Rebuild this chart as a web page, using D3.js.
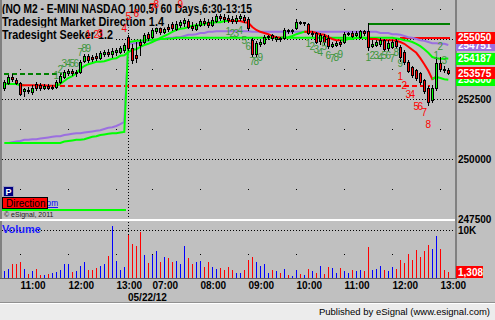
<!DOCTYPE html>
<html><head><meta charset="utf-8">
<script src="https://cdn.jsdelivr.net/npm/d3@7/dist/d3.min.js"></script>
<style>html,body{margin:0;padding:0;background:#c0c0c0;overflow:hidden}svg{display:block}text{font-family:"Liberation Sans",Arial,sans-serif}</style>
</head><body><svg id="c" width="495" height="320"></svg>
<script>
// ---------------- DATA ----------------
const opens = [252950,253175,253425,253300,253175,252825,252875,252800,253125,253075,252950,253050,252950,253000,253200,253425,253575,253675,253575,253625,254075,254300,254250,254300,254200,254375,254450,254375,254450,254450,254550,
255075,254625,254325,254875,254875,255200,255075,255325,255450,255300,255500,255625,255425,255575,255675,255750,255550,255425,255575,255750,255700,255575,255750,255950,255925,255875,255825,255750,255875,255925,255825,
254950,254375,254800,254825,255075,255175,255000,255050,255050,255375,255325,255450,255700,255675,255625,255200,255250,254925,255125,255050,254700,254750,254875,254875,255200,255250,255175,255075,255325,255325,254700,254750,254800,254950,254625,254675,254925,254675,254450,254050,253825,253700,253575,253300,252950,252450,252950,254000,253750,253700];
const highs = [253300,253500,253550,253375,253200,252950,253000,253075,253200,253175,253125,253125,253075,253300,253550,253700,253750,253750,253700,254125,254375,254375,254325,254425,254500,254550,254575,254625,254625,254700,254825,
255175,254800,254875,254950,255250,255300,255450,255550,255500,255550,255625,255700,255750,255800,255875,255825,255700,255675,255825,255875,255825,255925,256050,256075,256050,256000,255950,256000,256050,256000,255925,
255050,254925,254950,255175,255175,255200,255125,255075,255450,255425,255425,255825,255750,255725,255675,255325,255300,255250,255200,255175,254875,254925,254950,255300,255300,255325,255325,255375,255375,255675,254950,254950,255050,255000,254950,254950,255000,254750,254550,254125,253875,253750,253625,253325,253050,253075,254250,254250,253875,253800];
const lows = [252875,253125,253250,253125,252675,252625,252750,252700,252875,252875,252925,252925,252925,252950,253175,253375,253500,253500,253450,253575,254050,254050,254075,254125,254175,254300,254300,254250,254325,254425,254450,
254550,254000,254050,254350,254825,254950,255050,255250,255200,255250,255325,255375,255375,255500,255550,255450,255375,255375,255550,255575,255500,255550,255700,255800,255700,255700,255675,255675,255800,255700,255375,
254300,254300,254700,254800,255000,254950,254925,254925,255000,255250,255250,255425,255625,255575,255200,255125,254825,254800,254800,254625,254675,254700,254700,254825,255175,255075,255125,255050,255175,254550,254675,254700,254700,254500,254550,254625,254625,254075,253950,253625,253425,253300,253125,252750,252250,252375,252875,253675,253625,253550];
const closes = [253200,253425,253325,253175,252700,252900,252825,252950,252950,252950,253050,252950,253000,253200,253450,253625,253675,253575,253625,254050,254300,254125,254175,254200,254425,254450,254375,254500,254550,254625,254750,
254625,254125,254200,254750,255175,255050,255375,255450,255300,255425,255425,255450,255625,255700,255800,255500,255450,255575,255750,255675,255575,255800,255950,255875,255825,255800,255750,255875,255950,255800,255450,
254375,254825,254875,255075,255125,255050,255075,255000,255375,255325,255375,255700,255675,255700,255250,255250,254875,255175,254875,254700,254800,254825,254800,255200,255250,255125,255250,255325,255250,254675,254800,254875,254950,254575,254825,254875,254700,254250,254050,253675,253500,253375,253200,252825,252375,252950,254000,253750,253700,253575];
const volumes = [1390,1940,2920,2920,3330,1940,830,1390,1940,690,690,830,1040,1250,1600,2980,2920,1250,1530,2570,3260,1740,1600,2080,2430,2920,4510,10900,3610,1740,2220,
9020,7080,6590,9510,4860,3120,4720,5550,3260,4370,4160,3260,3610,2980,6730,4160,2980,3260,3610,2220,3330,2220,1870,2080,1740,2290,1740,1040,1040,1600,3820,
4370,3260,2430,2920,1040,1740,1390,1040,1940,690,490,1740,830,560,1940,1530,1040,2430,830,2220,2080,1040,2080,1530,1040,1600,1390,1740,1390,6450,1740,1940,2570,1600,1390,2220,1940,3820,3120,5000,3820,5900,4370,5690,6800,6040,8680,6040,1740,1308];
// Tradesight Market Direction line and its up/down turns
const mdLine = [253125,253125,253125,253125,253075,253075,253075,253075,253075,253075,253075,253050,253050,253050,253125,253250,253375,253450,253575,253750,253875,253950,254000,254050,254050,254075,254125,254175,254200,254300,254325,
254450,254550,254575,254675,254750,254800,254875,254950,255050,255125,255200,255300,255375,255425,255450,255500,255550,255575,255575,255625,255675,255675,255700,255700,255750,255750,255750,255750,255750,255700,
255675,255500,255375,255300,255250,255200,255125,255075,255050,255050,255075,255125,255200,255250,255300,255300,255300,255250,255200,255175,255075,255000,254950,254950,254950,255000,255000,255050,255050,255050,
255000,255000,255000,254950,254950,254950,254950,254925,254875,254800,254675,254550,254425,254200,253950,253675,253325,253425,253375,253325,253300];
const mdTurnIdx = [0,5,14,57,70,76,85,92,108];
const mdTurnDir = [1,-1,1,-1,1,-1,1,-1,1];
// Tradesight Seeker lines
const seekerLine = [250667,250667,250667,250667,250667,250667,250667,250667,250667,250667,250667,250667,250667,250667,250667,250725,250750,250775,250800,250800,250825,250875,250925,250950,251000,251025,251050,251075,251075,251100,251125,
254875,254900,254925,254925,254950,254950,254975,254975,255000,255000,255025,255025,255050,255050,255050,255050,255050,255050,255050,255050,255050,255050,255050,255050,255050,255050,255050,255050,255050,255050,255050,
255050,255050,255050,255050,255050,255050,255050,255050,255050,255050,255050,255050,255050,255050,255050,255050,255050,255050,255050,255050,255050,255050,255050,255050,255050,255050,255050,255050,255050,255050,255050,255050,255050,255050,255050,255050,
255025,255000,254950,254925,254875,254800,254700,254575,254425,254250,254200,254175,254175,254187];
const trendLine = [null,250667,250700,250725,250750,250800,250800,250825,250825,250850,250875,250900,250925,250950,250950,251000,251025,251050,251075,251075,251100,251125,251150,251175,251200,251250,251300,251325,251375,251450,251550,
254800,254825,254825,254875,254875,254925,254950,254950,255000,255000,255050,255050,255075,255075,255125,255175,255175,255200,255250,255250,255300,255300,255325,255325,255325,255325,255325,255325,255325,255325,255325,
255300,255300,255300,255300,255300,255300,255300,255300,255300,255300,255300,255300,255300,255300,255300,255300,255300,255300,255300,255300,255300,255300,255300,255300,255300,255300,255300,255300,255300,255300,255300,255300,
255250,255250,255250,255200,255200,255175,255125,255075,255050,255000,254950,254925,254875,254825,254825,254800,254800,254751];
// horizontal levels
const levelNames = ["prior","pivot","seekerLow","seekerHigh","target"];
const levelValues = [253525,253050,247875,255625,255050];
const levelFrom = [0,14,0,91,99];
const levelTo = [14,106,30,111,111];
// count labels
const countIdx = [13,14,15,16,17,18,19,20,21, 56,57,58,59,60,61,62,63,64, 76,77,78,79,80,81,82,83,84, 91,92,93,94,95,96,97,98,99, 108,109,110,
  21,23,24,30,31,33,37,38,44, 99,100,101,102,103,104,105,106];
const countPrice = [253500,253750,254000,254000,254000,254000,254425,254625,254625, 255300,255250,255250,255375,254925,254700,254050,254050,254250, 254825,254675,254575,254450,254675,254325,254175,254250,254375, 254250,254300,254300,254250,254300,254300,254200,254450,254000, 254325,254675,254125,
  255200,255200,255250,255425,255925,256050,256325,256450,256425, 253425,253050,252675,252675,252200,252175,251950,251425];
const countText = ["1","2","3","4","5","6","7","8","9","1","2","3","4","5","6","7","8","9","1","2","3","4","5","6","7","8","9","1","2","3","4","5","6","7","8","9","1","2","3",
  "1","2","3","4","5","6","7","8","9","1","2","3","4","5","6","7","8"];
const countSide = countIdx.map((d,i)=> i<39 ? "buy" : "sell");
// axes
const priceTicks = [247500,250000,252500,255000];
const priceMinor = [248750,251250,253750,256250];
const timeTickIdx = [4,16,28,37,49,61,73,85,97,109];
const timeTickLabels = ["11:00","12:00","13:00","07:00","08:00","09:00","10:00","11:00","12:00","13:00"];
const dayStartIdx = 31;
const dayLabel = "05/22/12";
const volTicks = [10000];
const volMinor = [5000];
const titles = ["(NQ M2 - E-MINI NASDAQ 100,5) 60 Days,6:30-13:15","Tradesight Market Direction 1.4","Tradesight Seeker 1.2"];

// ---------------- DRAW ----------------
const svg = d3.select("#c");
const W=495,H=320, PL=2, PR=455;
const x = d3.scaleLinear().domain([0,111]).range([4.3,448.3]);
const px = i => Math.round(x(i));
const y = d3.scaleLinear().domain([247500,255000]).range([219,39]);
const yv = d3.scaleLinear().domain([0,10000]).range([278,230]);
const n = closes.length;

svg.append("rect").attr("width",W).attr("height",H).attr("fill","#c0c0c0");
const defs = svg.append("defs");
defs.append("clipPath").attr("id","pc").append("rect").attr("x",PL).attr("y",0).attr("width",PR-PL).attr("height",219);
defs.append("clipPath").attr("id","vc").append("rect").attr("x",PL).attr("y",222).attr("width",PR-PL).attr("height",56);

const P = svg.append("g").attr("clip-path","url(#pc)").attr("shape-rendering","crispEdges");
priceTicks.forEach(v=>{
  const yy=Math.round(y(v))+0.5;
  P.append("line").attr("x1",PL).attr("x2",PR).attr("y1",yy).attr("y2",yy).attr("stroke","#000").attr("stroke-dasharray","1,2");
});
priceMinor.forEach(v=>{
  timeTickIdx.forEach(i=>{
    P.append("rect").attr("x",px(i)).attr("y",Math.round(y(v))).attr("width",1).attr("height",1).attr("fill","#000");
  });
});
P.append("line").attr("x1",px(dayStartIdx)+0.5).attr("x2",px(dayStartIdx)+0.5).attr("y1",0).attr("y2",219).attr("stroke","#000").attr("stroke-dasharray","1,2");

const levelStyle = {
  prior:{c:"#008000",d:"5,3"}, pivot:{c:"#ff0000",d:"5,3"}, seekerLow:{c:"#00ff00",d:null},
  seekerHigh:{c:"#008000",d:null}, target:{c:"#ff0000",d:null}
};
levelNames.forEach((nm,k)=>{
  const st=levelStyle[nm]; const yy=Math.round(y(levelValues[k]));
  const l=P.append("line").attr("x1",k===2?PL:px(levelFrom[k])).attr("x2",px(levelTo[k])+2)
    .attr("y1",yy).attr("y2",yy).attr("stroke",st.c).attr("stroke-width",2);
  if(st.d) l.attr("stroke-dasharray",st.d);
});

const L = svg.append("g").attr("clip-path","url(#pc)");
const lineGen = d3.line().defined(d=>d[1]!=null).x(d=>x(d[0])).y(d=>y(d[1]));
L.append("path").attr("d",lineGen(trendLine.map((v,i)=>[i,v]))).attr("fill","none").attr("stroke","#9b6fe0").attr("stroke-width",2);
L.append("path").attr("d",lineGen(seekerLine.map((v,i)=>[i,v]))).attr("fill","none").attr("stroke","#00ff00").attr("stroke-width",2);
mdTurnIdx.forEach((s,k)=>{
  const e = k<mdTurnIdx.length-1 ? mdTurnIdx[k+1] : n-1;
  const pts=[]; for(let i=Math.max(0,s-1);i<=e;i++) pts.push([i,mdLine[i]]);
  L.append("path").attr("d",lineGen(pts)).attr("fill","none").attr("stroke",mdTurnDir[k]>0?"#00ff00":"#ff0000").attr("stroke-width",2);
});

const C = svg.append("g").attr("clip-path","url(#pc)").attr("shape-rendering","crispEdges");
for(let i=0;i<n;i++){
  const cx=px(i);
  C.append("line").attr("x1",cx+0.5).attr("x2",cx+0.5).attr("y1",Math.round(y(highs[i]))).attr("y2",Math.round(y(lows[i]))+1).attr("stroke","#000");
  const up = closes[i]>=opens[i];
  const y0=Math.round(y(Math.max(opens[i],closes[i]))), y1=Math.round(y(Math.min(opens[i],closes[i])));
  C.append("rect").attr("x",cx-0.5).attr("y",y0+0.5).attr("width",2).attr("height",Math.max(1,y1-y0))
    .attr("fill",up?"#00ff00":"#ff0000").attr("stroke","#000");
}

const T = svg.append("g");
const titleBase=[13,26,39], titleTop=[0,14,27.5], titleLen=[250,162,111];
titles.forEach((t,k)=>{
  const bg=T.append("rect").attr("x",0).attr("y",titleTop[k]).attr("height",(k<2?titleTop[k+1]:40)-titleTop[k]).attr("fill","#c0c0c0");
  T.append("text").attr("x",2).attr("y",titleBase[k]).attr("font-size",12).attr("font-weight","bold").attr("fill","#000")
    .attr("textLength",titleLen[k]).attr("lengthAdjust","spacingAndGlyphs").text(t);
  bg.attr("width",titleLen[k]+3);
});
svg.append("line").attr("x1",1).attr("x2",1).attr("y1",0).attr("y2",279).attr("stroke","#808080").attr("stroke-width",2);

const CL = svg.append("g").attr("clip-path","url(#pc)");
countIdx.forEach((ix,k)=>{
  CL.append("text").attr("x",x(ix)).attr("y",y(countPrice[k])+3.5).attr("text-anchor","middle")
    .attr("font-size",10).attr("fill",countSide[k]==="buy"?"#3c963c":"#ff0000").text(countText[k]);
});

const BL = svg.append("g");
BL.append("text").attr("x",4).attr("y",206).attr("font-size",9).attr("fill","#0000ff").attr("text-decoration","underline")
  .attr("textLength",54).attr("lengthAdjust","spacingAndGlyphs").text("tradesight.com");
BL.append("rect").attr("x",3.5).attr("y",186.5).attr("width",10).attr("height",10).attr("fill","#000080").attr("stroke","#a0a0c0");
BL.append("text").attr("x",8.5).attr("y",195).attr("text-anchor","middle").attr("font-size",9).attr("font-weight","bold").attr("fill","#fff").text("P");
BL.append("rect").attr("x",2.5).attr("y",197.5).attr("width",45).attr("height",11).attr("fill","#ff0000").attr("stroke","#000");
BL.append("text").attr("x",6).attr("y",206.5).attr("font-size",10).attr("fill","#000").text("Direction");
BL.append("text").attr("x",4).attr("y",217).attr("font-size",7).attr("fill","#202020").text("© eSignal, 2011");

svg.append("line").attr("x1",0).attr("x2",PR).attr("y1",220).attr("y2",220).attr("stroke","#ffffff").attr("stroke-width",2);
svg.append("line").attr("x1",456).attr("x2",456).attr("y1",0).attr("y2",279).attr("stroke","#808080").attr("stroke-width",2);

const A = svg.append("g");
priceTicks.forEach(v=>{
  A.append("text").attr("x",458).attr("y",y(v)+3.6).attr("font-size",10).attr("font-weight","bold").attr("fill","#000").text(v);
});
function valueBox(v,color){
  const yy=y(v);
  A.append("rect").attr("x",456).attr("y",Math.round(yy)-6).attr("width",39).attr("height",12).attr("fill",color);
  A.append("text").attr("x",458).attr("y",yy+3.6).attr("font-size",10).attr("font-weight","bold").attr("fill","#fff").text(Math.round(v));
}
valueBox(trendLine[n-1],"#9b6fe0");
valueBox(levelValues[4],"#ff0000");
valueBox(seekerLine[n-1],"#00ff00");
valueBox(mdLine[n-1],"#00ff00");
valueBox(closes[n-1],"#ff0000");

const V = svg.append("g").attr("shape-rendering","crispEdges");
volTicks.forEach(v=>{
  const yy=Math.round(yv(v))+0.5;
  V.append("line").attr("x1",PL).attr("x2",PR).attr("y1",yy).attr("y2",yy).attr("stroke","#000").attr("stroke-dasharray","1,2");
});
volMinor.forEach(v=>timeTickIdx.forEach(i=>V.append("rect").attr("x",px(i)).attr("y",Math.round(yv(v))).attr("width",1).attr("height",1).attr("fill","#000")));
V.append("line").attr("x1",px(dayStartIdx)+0.5).attr("x2",px(dayStartIdx)+0.5).attr("y1",222).attr("y2",278).attr("stroke","#000").attr("stroke-dasharray","1,2");
const VB = V.append("g").attr("clip-path","url(#vc)");
volumes.forEach((v,i)=>{
  VB.append("rect").attr("x",px(i)).attr("y",Math.round(yv(v))).attr("width",1).attr("height",278-Math.round(yv(v)))
    .attr("fill",closes[i]>=opens[i]?"#0000ff":"#ff0000");
});
V.append("line").attr("x1",0).attr("x2",457).attr("y1",278.5).attr("y2",278.5).attr("stroke","#606060");
svg.append("text").attr("x",2).attr("y",233).attr("font-size",11).attr("font-weight","bold").attr("fill","#2020ff").text("Volume");
svg.append("text").attr("x",458).attr("y",yv(10000)+3.6).attr("font-size",10).attr("font-weight","bold").attr("fill","#000").text("10K");
svg.append("rect").attr("x",456).attr("y",266).attr("width",27).attr("height",12).attr("fill","#ff0000");
svg.append("text").attr("x",458).attr("y",275.5).attr("font-size",10).attr("font-weight","bold").attr("fill","#fff").text(d3.format(",")(volumes[n-1]));

timeTickIdx.forEach((ix,k)=>{
  svg.append("text").attr("x",px(ix)+0.5).attr("y",289).attr("font-size",10).attr("font-weight","bold").attr("fill","#000").text(timeTickLabels[k]);
});
svg.append("text").attr("x",px(dayStartIdx)).attr("y",301).attr("font-size",10).attr("font-weight","bold").attr("fill","#000").text(dayLabel);

svg.append("line").attr("x1",0).attr("x2",W).attr("y1",302.5).attr("y2",302.5).attr("stroke","#909090").attr("shape-rendering","crispEdges");
svg.append("line").attr("x1",0).attr("x2",W).attr("y1",303.5).attr("y2",303.5).attr("stroke","#ffffff").attr("shape-rendering","crispEdges");
svg.append("rect").attr("x",0).attr("y",304).attr("width",W).attr("height",16).attr("fill","#ececec");
svg.append("text").attr("x",490).attr("y",315).attr("text-anchor","end").attr("font-size",9.5).attr("fill","#000")
  .text("Published by eSignal (www.esignal.com)");
</script></body></html>
